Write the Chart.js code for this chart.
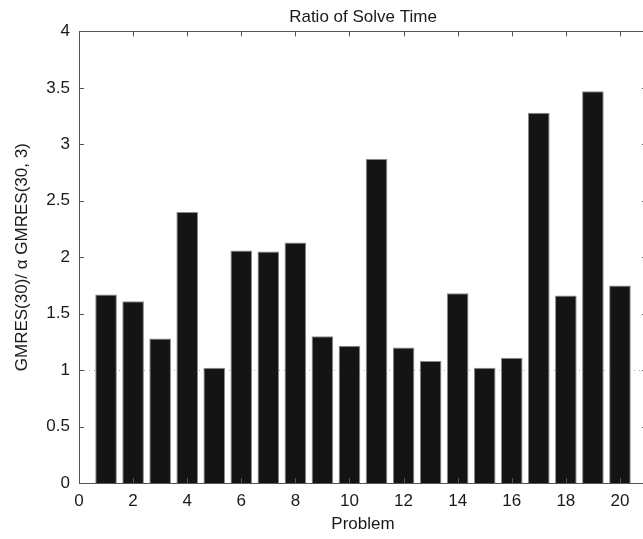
<!DOCTYPE html>
<html lang="en">
<head>
    <meta charset="UTF-8">
    <title>Ratio of Solve Time</title>
    <script src="https://cdn.jsdelivr.net/npm/chart.js"></script>
    <style>
        html, body { margin: 0; padding: 0; background: #fff; overflow: hidden; }
        #wrap { width: 643px; height: 539px; overflow: hidden; }
    </style>
</head>
<body>
    <div id="wrap"><canvas id="ratioChart" width="662" height="539"></canvas></div>

    <script>
        // problem index and measured ratio of solve time
        let problems = [1, 2, 3, 4, 5, 6, 7, 8, 9, 10, 11, 12, 13, 14, 15, 16, 17, 18, 19, 20];
        let ratios = [1.67, 1.61, 1.28, 2.40, 1.02, 2.06, 2.05, 2.13, 1.30, 1.215,
                      2.87, 1.20, 1.08, 1.68, 1.02, 1.11, 3.28, 1.66, 3.47, 1.75];
        let xTicks = [0, 2, 4, 6, 8, 10, 12, 14, 16, 18, 20];
        let yTicks = [0, 0.5, 1, 1.5, 2, 2.5, 3, 3.5, 4];
        let refLines = [1];

        let font = { family: "'Liberation Sans', Arial, sans-serif", size: 17 };
        let axisColor = '#555';
        let textColor = '#1a1a1a';

        // box frame, inward ticks and the dotted reference line (MATLAB look)
        let framePlugin = {
            id: 'frame',
            beforeDatasetsDraw(chart) {
                let { ctx, chartArea: a, scales: { y } } = chart;
                ctx.save();
                ctx.strokeStyle = '#aaa';
                ctx.lineWidth = 1;
                ctx.setLineDash([1, 4]);
                refLines.forEach(v => {
                    let py = Math.round(y.getPixelForValue(v)) + 0.5;
                    ctx.beginPath();
                    ctx.moveTo(a.left, py);
                    ctx.lineTo(a.right, py);
                    ctx.stroke();
                });
                ctx.restore();
            },
            afterDatasetsDraw(chart) {
                let { ctx, chartArea: a, scales: { x, y } } = chart;
                ctx.save();
                ctx.strokeStyle = axisColor;
                ctx.lineWidth = 1;
                ctx.strokeRect(Math.round(a.left) + 0.5, Math.round(a.top) + 0.5,
                               Math.round(a.right - a.left), Math.round(a.bottom - a.top));
                ctx.beginPath();
                xTicks.forEach(v => {
                    let px = Math.round(x.getPixelForValue(v)) + 0.5;
                    ctx.moveTo(px, a.bottom); ctx.lineTo(px, a.bottom - 5);
                    ctx.moveTo(px, a.top); ctx.lineTo(px, a.top + 5);
                });
                yTicks.forEach(v => {
                    let py = Math.round(y.getPixelForValue(v)) + 0.5;
                    ctx.moveTo(a.left, py); ctx.lineTo(a.left + 5, py);
                    ctx.moveTo(a.right, py); ctx.lineTo(a.right - 5, py);
                });
                ctx.stroke();
                ctx.restore();
            }
        };

        let ctx = document.getElementById('ratioChart').getContext('2d');

        let ratioChart = new Chart(ctx, {
            type: 'bar',
            data: {
                datasets: [{
                    label: 'Ratio',
                    data: problems.map((p, i) => ({ x: p, y: ratios[i] })),
                    backgroundColor: '#141414',
                    borderColor: '#8a8a8a',
                    borderWidth: 1,
                    barPercentage: 0.8,
                    categoryPercentage: 1
                }]
            },
            options: {
                responsive: false,
                animation: false,
                layout: { padding: { left: 0, right: 15, top: 0, bottom: 0 } },
                plugins: {
                    legend: { display: false },
                    tooltip: { enabled: false },
                    title: {
                        display: true,
                        fullSize: false,
                        text: 'Ratio of Solve Time',
                        color: textColor,
                        font: { family: font.family, size: 17, weight: 'normal' },
                        padding: { top: 7, bottom: 4 }
                    }
                },
                scales: {
                    x: {
                        type: 'linear',
                        min: 0,
                        max: 21,
                        offset: false,
                        grid: { display: false, drawTicks: false },
                        border: { display: true, color: axisColor },
                        afterBuildTicks: s => { s.ticks = xTicks.map(v => ({ value: v })); },
                        afterFit: s => { s.height = 56; },
                        ticks: { color: textColor, font: font, padding: 8, maxRotation: 0 },
                        title: { display: true, text: 'Problem', color: textColor, font: font, padding: { top: 0, bottom: 4 } }
                    },
                    y: {
                        min: 0,
                        max: 4,
                        grid: { display: false, drawTicks: false },
                        border: { display: true, color: axisColor },
                        afterBuildTicks: s => { s.ticks = yTicks.map(v => ({ value: v })); },
                        afterFit: s => { s.width = 79; },
                        ticks: { color: textColor, font: font, padding: 9, callback: v => String(v) },
                        title: { display: true, text: 'GMRES(30)/ \u03b1 GMRES(30, 3)', color: textColor, font: font, padding: { top: 12, bottom: 0 } }
                    }
                }
            },
            plugins: [framePlugin]
        });
    </script>
</body>
</html>
